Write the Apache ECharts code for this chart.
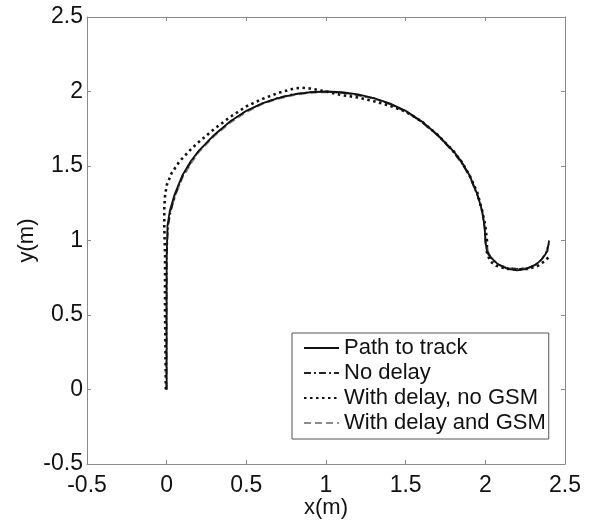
<!DOCTYPE html>
<html>
<head>
<meta charset="utf-8">
<script src="https://cdn.jsdelivr.net/npm/echarts@6/dist/echarts.min.js"></script>
<style>
  html, body { margin: 0; padding: 0; background: #fff; }
  #chart { width: 597px; height: 520px; }
</style>
</head>
<body>
<div id="chart"></div>
<script>
// ticks
var xTicks = [-0.5, 0, 0.5, 1, 1.5, 2, 2.5];
var yTicks = [-0.5, 0, 0.5, 1, 1.5, 2, 2.5];

var seriesNames = ['Path to track', 'No delay', 'With delay, no GSM', 'With delay and GSM'];

// [x, y] in metres
var pathToTrack = [
    [0, 0], [0, 0.5], [0, 0.9], [0.005, 1.1], [0.02, 1.2], [0.05, 1.31], [0.1, 1.44], [0.15, 1.53],
    [0.2, 1.6], [0.3, 1.71], [0.4, 1.8], [0.5, 1.87], [0.6, 1.92], [0.7, 1.955], [0.8, 1.98],
    [0.9, 1.995], [1.0, 2.0], [1.1, 1.995], [1.2, 1.98], [1.3, 1.955], [1.4, 1.92], [1.5, 1.87],
    [1.6, 1.8], [1.7, 1.71], [1.8, 1.6], [1.85, 1.53], [1.9, 1.44], [1.95, 1.31], [1.98, 1.2],
    [1.995, 1.1], [2.0, 1.0], [2.01, 0.93], [2.04, 0.88], [2.08, 0.84], [2.14, 0.81], [2.2, 0.8],
    [2.26, 0.81], [2.32, 0.84], [2.36, 0.88], [2.39, 0.93], [2.4, 1.0]
];
var noDelay = [
    [0, 0], [0, 0.5], [0.002, 0.9], [0.01, 1.1], [0.03, 1.21], [0.06, 1.32], [0.1, 1.43], [0.15, 1.52],
    [0.2, 1.6], [0.3, 1.71], [0.4, 1.8], [0.5, 1.87], [0.6, 1.92], [0.7, 1.96], [0.8, 1.985],
    [0.9, 1.995], [1.0, 2.0], [1.1, 1.99], [1.15, 1.985], [1.2, 1.975], [1.25, 1.965], [1.3, 1.955],
    [1.4, 1.915], [1.5, 1.865], [1.6, 1.795], [1.7, 1.705], [1.8, 1.59], [1.85, 1.52], [1.9, 1.43],
    [1.95, 1.3], [1.98, 1.19], [1.995, 1.08], [2.0, 0.98], [2.015, 0.91], [2.05, 0.86], [2.1, 0.83],
    [2.15, 0.815], [2.2, 0.81], [2.26, 0.815], [2.31, 0.835], [2.35, 0.87], [2.38, 0.92], [2.4, 0.98]
];
var withDelayNoGsm = [
    [-0.005, 0], [-0.01, 0.5], [-0.01, 0.9], [-0.015, 1.1], [-0.015, 1.22], [-0.01, 1.3], [0.0, 1.37],
    [0.03, 1.45], [0.08, 1.53], [0.15, 1.61], [0.2, 1.66], [0.3, 1.75], [0.4, 1.83], [0.5, 1.9],
    [0.6, 1.95], [0.7, 1.99], [0.8, 2.02], [0.85, 2.025], [0.9, 2.02], [1.0, 2.0], [1.1, 1.975],
    [1.2, 1.96], [1.3, 1.935], [1.4, 1.905], [1.5, 1.865], [1.6, 1.8], [1.7, 1.71], [1.8, 1.6],
    [1.85, 1.53], [1.9, 1.44], [1.95, 1.32], [1.98, 1.2], [2.0, 1.1], [2.01, 1.0], [2.01, 0.92],
    [2.03, 0.86], [2.07, 0.83], [2.13, 0.81], [2.2, 0.805], [2.27, 0.81], [2.33, 0.83], [2.37, 0.86],
    [2.4, 0.89]
];
var withDelayGsm = [
    [-0.005, 0], [-0.005, 0.5], [0, 0.9], [0.008, 1.1], [0.025, 1.2], [0.055, 1.3], [0.1, 1.42],
    [0.15, 1.51], [0.2, 1.59], [0.3, 1.7], [0.4, 1.79], [0.5, 1.86], [0.6, 1.915], [0.7, 1.95],
    [0.8, 1.975], [0.9, 1.99], [1.0, 1.995], [1.1, 1.99], [1.2, 1.975], [1.3, 1.95], [1.4, 1.915],
    [1.5, 1.865], [1.6, 1.795], [1.7, 1.705], [1.8, 1.595], [1.85, 1.525], [1.9, 1.435], [1.95, 1.305],
    [1.98, 1.195], [1.995, 1.09], [2.005, 0.99], [2.02, 0.92], [2.05, 0.87], [2.09, 0.835], [2.15, 0.815],
    [2.2, 0.81], [2.26, 0.815], [2.31, 0.835], [2.35, 0.87], [2.38, 0.915], [2.39, 0.96]
];

var FONT = '"Liberation Sans", Arial, Helvetica, sans-serif';
var AXIS_GRAY = '#8a8a8a';

var chart = echarts.init(document.getElementById('chart'));

// main axis (labels) + mirrored axis for the box
function xAxisDef(pos, labels) {
    return {
        type: 'value',
        position: pos,
        min: xTicks[0],
        max: xTicks[xTicks.length - 1],
        interval: 0.5,
        name: labels ? 'x(m)' : '',
        nameLocation: 'middle',
        nameGap: 33,
        nameMoveOverlap: false,
        nameTextStyle: { fontFamily: FONT, fontSize: 22, color: '#111' },
        axisLine: { show: true, onZero: false, lineStyle: { color: AXIS_GRAY, width: 1 } },
        axisTick: { show: true, inside: true, length: 4, lineStyle: { color: AXIS_GRAY } },
        axisLabel: {
            show: labels, margin: 10, fontFamily: FONT, fontSize: 23, color: '#111',
            formatter: function (v) { return String(v); }
        },
        splitLine: { show: false }
    };
}
function yAxisDef(pos, labels) {
    return {
        type: 'value',
        position: pos,
        min: yTicks[0],
        max: yTicks[yTicks.length - 1],
        interval: 0.5,
        name: labels ? 'y(m)' : '',
        nameLocation: 'middle',
        nameGap: 49,
        nameMoveOverlap: false,
        nameTextStyle: { fontFamily: FONT, fontSize: 22, color: '#111' },
        axisLine: { show: true, onZero: false, lineStyle: { color: AXIS_GRAY, width: 1 } },
        axisTick: { show: true, inside: true, length: 4, lineStyle: { color: AXIS_GRAY } },
        axisLabel: {
            show: labels, margin: 4, fontFamily: FONT, fontSize: 23, color: '#111',
            formatter: function (v) { return String(v); }
        },
        splitLine: { show: false }
    };
}

var option = {
    backgroundColor: '#fff',
    animation: false,
    grid: { left: 87, top: 17, right: 32, bottom: 56, containLabel: false, outerBoundsMode: 'none' },
    legend: {
        orient: 'vertical',
        left: 292,
        top: 333,
        data: seriesNames,
        backgroundColor: '#fff',
        borderColor: '#555',
        borderWidth: 1,
        borderRadius: 0,
        padding: [4, 3, 5, 11],
        itemGap: 3,
        itemWidth: 35,
        itemHeight: 14,
        selectedMode: false,
        itemStyle: { color: 'transparent', borderWidth: 0, opacity: 0 },
        textStyle: { fontFamily: FONT, fontSize: 22, lineHeight: 22, color: '#111' }
    },
    xAxis: [xAxisDef('bottom', true), xAxisDef('top', false)],
    yAxis: [yAxisDef('left', true), yAxisDef('right', false)],
    series: [
        {
            name: seriesNames[3], type: 'line', data: withDelayGsm, symbol: 'none', z: 2,
            itemStyle: { color: '#8c8c8c' },
            lineStyle: { color: '#8c8c8c', width: 1.6, type: [7, 4] }
        },
        {
            name: seriesNames[2], type: 'line', data: withDelayNoGsm, symbol: 'none', z: 3,
            itemStyle: { color: '#111' },
            lineStyle: { color: '#111', width: 2.6, type: [2.5, 3.5] }
        },
        {
            name: seriesNames[1], type: 'line', data: noDelay, symbol: 'none', z: 4,
            itemStyle: { color: '#222' },
            lineStyle: { color: '#222', width: 1.4, type: [7, 3, 2, 3] }
        },
        {
            name: seriesNames[0], type: 'line', data: pathToTrack, symbol: 'none', z: 5,
            itemStyle: { color: '#111' },
            lineStyle: { color: '#111', width: 1.8 }
        }
    ]
};
chart.setOption(option);
</script>
</body>
</html>
